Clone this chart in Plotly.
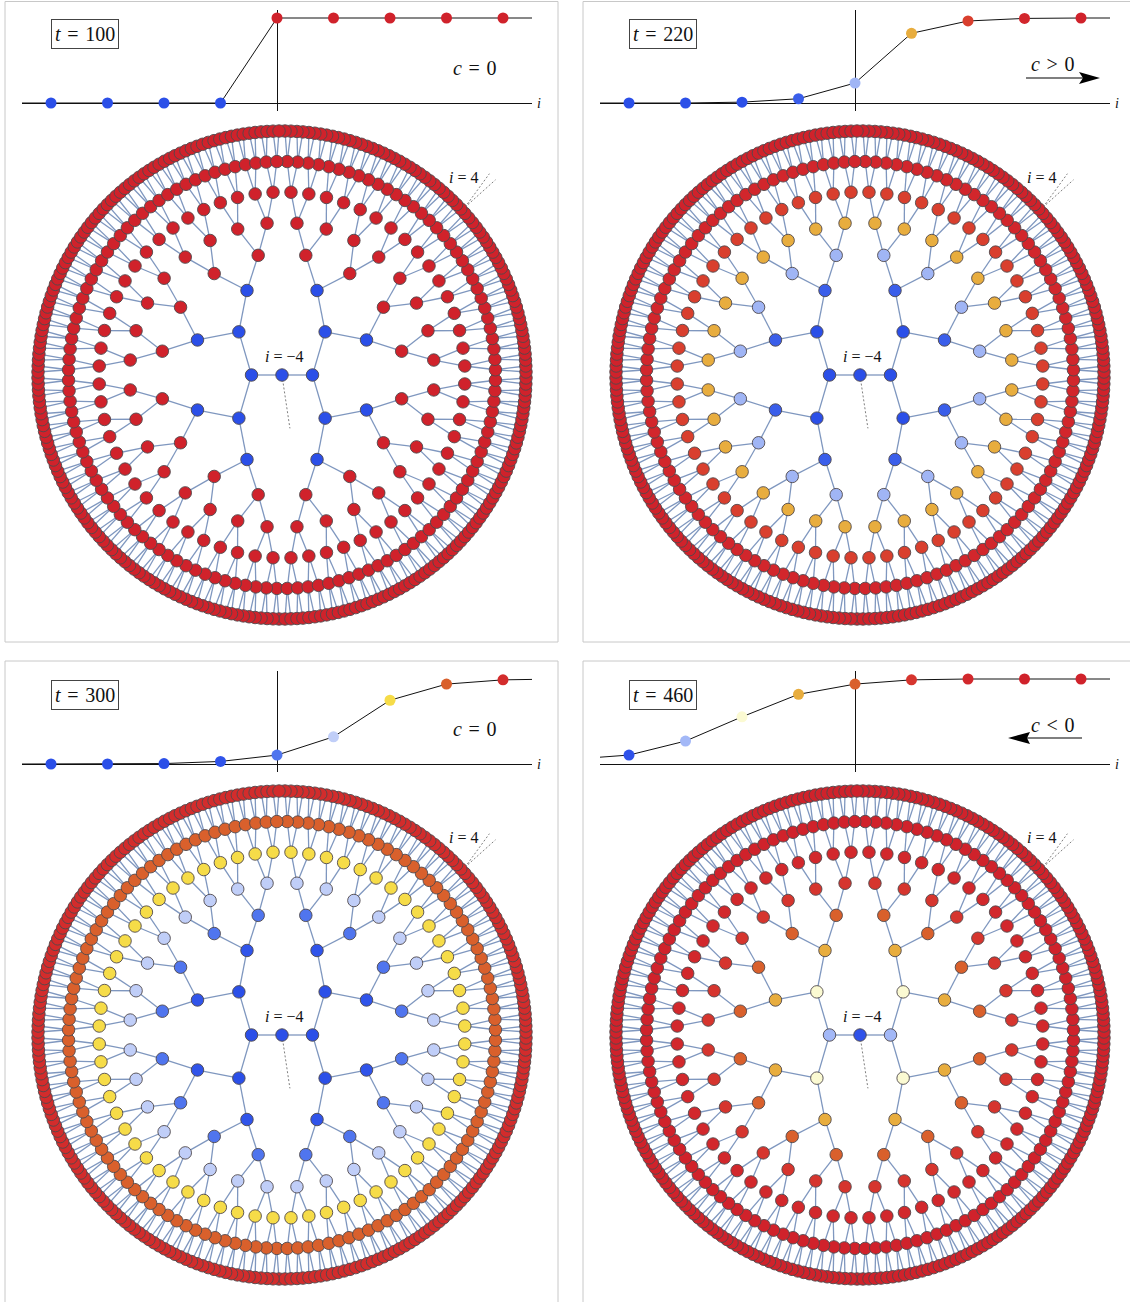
import math
import plotly.graph_objects as go

W, H = 1130, 1302
STEP = 30.5          # pixels per tree level
UNIT_X, UNIT_Y = 56.5, 85.0

# --- data ---
sites = [-4, -3, -2, -1, 0, 1, 2, 3, 4]
times = [100, 220, 300, 460]
speeds = ["<i>c</i>\u200a = \u200a0", "<i>c</i>\u200a &gt; \u200a0", "<i>c</i>\u200a = \u200a0", "<i>c</i>\u200a &lt; \u200a0"]

u_100 = [0, 0, 0, 0, 1, 1, 1, 1, 1]
u_220 = [0, 0, 0.01, 0.05, 0.235, 0.82, 0.965, 0.995, 1]
u_300 = [0, 0, 0.005, 0.03, 0.105, 0.32, 0.75, 0.94, 0.99]
u_460 = [0.105, 0.27, 0.555, 0.82, 0.94, 0.99, 1, 1, 1]
u_left = [0, 0, 0, 0.08]
u_right = [1, 1, 0.995, 1]

BLUE, RED = "#2b4fe8", "#d0222b"
colors_100 = [BLUE, BLUE, BLUE, BLUE, RED, RED, RED, RED, RED]
colors_220 = [BLUE, BLUE, BLUE, "#3a5eea", "#a0b5f5", "#e8ad3e", "#d93f2e", "#d2262c", RED]
colors_300 = [BLUE, BLUE, BLUE, "#3054ea", "#5075ee", "#c0cef8", "#f6dc48", "#d9602c", "#d32c2c"]
colors_460 = ["#2f52ea", "#a3b8f7", "#fbfad2", "#e8ad3e", "#d9602c", "#d6352e", "#d2282c", RED, RED]

all_u = [u_100, u_220, u_300, u_460]
all_colors = [colors_100, colors_220, colors_300, colors_460]

tree_centers = [(282, 375), (860, 375), (282, 1035), (860, 1035)]
curve_origins = [(277, 103), (855, 103), (277, 764), (855, 764)]

EDGE = "#7f97bf"
NODE_LINE = "#4f484c"


def build_tree():
    """Cayley tree: root with two branches, each node then splitting in two."""
    levels = {0: [0.0], 1: [0.0, 180.0]}
    edges = [(0, 0.0, 1, 0.0), (0, 0.0, 1, 180.0)]
    for k in range(2, 9):
        d = 360 / 2 ** (k + 1)
        kids = []
        for a in levels[k - 1]:
            for b in (a - d, a + d):
                b %= 360
                kids.append(b)
                edges.append((k - 1, a, k, b))
        levels[k] = sorted(kids)
    return levels, edges


levels, edges = build_tree()


def pol(r, a):
    t = math.radians(a)
    return r * math.cos(t), r * math.sin(t)


fig = go.Figure()
layout = {}
shapes, annos = [], []


def px(x):
    return x / W


def py(y):
    return 1 - y / H


def label(x, y, text, size, **kw):
    annos.append(dict(x=px(x), y=py(y), xref="paper", yref="paper", showarrow=False, xanchor="center",
                      yanchor="middle", text=text, font=dict(family="Liberation Serif", size=size, color="#111"), **kw))


for p in range(4):
    n = p + 1
    cx, cy = tree_centers[p]
    ox, oy = curve_origins[p]
    ta, ca = 2 * n - 1, 2 * n
    half = 265
    lim = half / STEP
    layout[f"xaxis{ta}"] = dict(domain=[px(cx - half), px(cx + half)], range=[-lim, lim], visible=False, fixedrange=True)
    layout[f"yaxis{ta}"] = dict(domain=[py(cy + half), py(cy - half)], range=[-lim, lim], visible=False, fixedrange=True)
    layout[f"xaxis{ca}"] = dict(domain=[px(ox - 255), px(ox + 255)], range=[-255 / UNIT_X, 255 / UNIT_X],
                                showgrid=False, showticklabels=False, ticks="", zeroline=True,
                                zerolinecolor="#111", zerolinewidth=1, fixedrange=True)
    layout[f"yaxis{ca}"] = dict(domain=[py(oy + 8), py(oy - 93)], range=[-8 / UNIT_Y, 93 / UNIT_Y],
                                showgrid=False, showticklabels=False, ticks="", zeroline=True,
                                zerolinecolor="#111", zerolinewidth=1, fixedrange=True)
    xa, ya = f"x{ta}", f"y{ta}"
    xc, yc = f"x{ca}", f"y{ca}"

    # tree edges
    ex, ey = [], []
    for k0, a0, k1, a1 in edges:
        x0, y0 = pol(k0, a0)
        x1, y1 = pol(k1, a1)
        ex += [x0, x1, None]
        ey += [y0, y1, None]
    fig.add_trace(go.Scatter(x=ex, y=ey, mode="lines", xaxis=xa, yaxis=ya, showlegend=False, hoverinfo="skip",
                             line=dict(color=EDGE, width=1.3)))
    # dotted guides
    gx = [0.02, 0.26, None, 6.0, 6.8, None, 6.0, 7.0]
    gy = [-0.15, -1.75, None, 5.5, 6.6, None, 5.5, 6.4]
    fig.add_trace(go.Scatter(x=gx, y=gy, mode="lines", xaxis=xa, yaxis=ya, showlegend=False, hoverinfo="skip",
                             line=dict(color="#808080", width=1, dash="2px,2px")))
    # tree nodes: lower nodes are drawn first so upper ones overlap them
    for k in range(9):
        xy = sorted((pol(k, a) for a in levels[k]), key=lambda q: q[1])
        fig.add_trace(go.Scatter(x=[q[0] for q in xy], y=[q[1] for q in xy], mode="markers", xaxis=xa, yaxis=ya,
                                 showlegend=False, hoverinfo="skip", cliponaxis=False,
                                 marker=dict(size=12.5, color=all_colors[p][k], line=dict(color=NODE_LINE, width=0.9))))
    # profile curve
    L, R = u_left[p], u_right[p]
    fig.add_trace(go.Scatter(x=[-255 / UNIT_X] + sites + [255 / UNIT_X], y=[L] + all_u[p] + [R], mode="lines",
                             xaxis=xc, yaxis=yc, showlegend=False, hoverinfo="skip", cliponaxis=False,
                             line=dict(color="#111", width=1)))
    fig.add_trace(go.Scatter(x=sites, y=all_u[p], mode="markers", xaxis=xc, yaxis=yc, showlegend=False,
                             hoverinfo="skip", cliponaxis=False,
                             marker=dict(size=11, color=all_colors[p], line=dict(width=0))))

    # texts
    label(ox - 192, oy - 69, f"<i>t</i>\u200a = \u200a{times[p]}", 20,
          bordercolor="#444", borderwidth=1, borderpad=3, bgcolor="white")
    label(ox + 198, oy - (35 if p in (0, 2) else 39), speeds[p], 20)
    label(ox + 262, oy, "<i>i</i>", 14)
    label(cx + 2, cy - 19, "<i>i</i> = −4", 16)
    label(cx + 181, cy - 198, "<i>i</i> = 4", 16)

# arrows for the moving fronts
for (tail, notch, tip, wing, yc_) in [(1026, 1083, 1100, 1079, 78), (1082, 1027, 1008, 1030, 738)]:
    shapes.append(dict(type="line", xref="paper", yref="paper", x0=px(tail), x1=px(notch), y0=py(yc_), y1=py(yc_),
                       line=dict(color="#555", width=1.5)))
    shapes.append(dict(type="path", xref="paper", yref="paper", fillcolor="#000", line=dict(width=0),
                       path=f"M {px(tip)} {py(yc_)} L {px(wing)} {py(yc_ - 6)} L {px(notch)} {py(yc_)} L {px(wing)} {py(yc_ + 6)} Z"))

# panel frames
for (x0, y0, x1, y1) in [(5, 1.5, 558, 642), (583, 1.5, 1140, 642), (5, 661, 558, 1320), (583, 661, 1140, 1320)]:
    shapes.append(dict(type="rect", xref="paper", yref="paper", x0=px(x0), x1=px(x1), y0=py(y0), y1=py(y1),
                       line=dict(color="#c8c8c8", width=1), layer="below"))

fig.update_layout(width=W, height=H, margin=dict(l=0, r=0, t=0, b=0), paper_bgcolor="white", plot_bgcolor="rgba(0,0,0,0)",
                  showlegend=False, shapes=shapes, annotations=annos, **layout)
fig.write_html("out.html", config=dict(displayModeBar=False, responsive=False),
               post_script="document.body.style.margin='0';document.documentElement.style.overflow='hidden';")
